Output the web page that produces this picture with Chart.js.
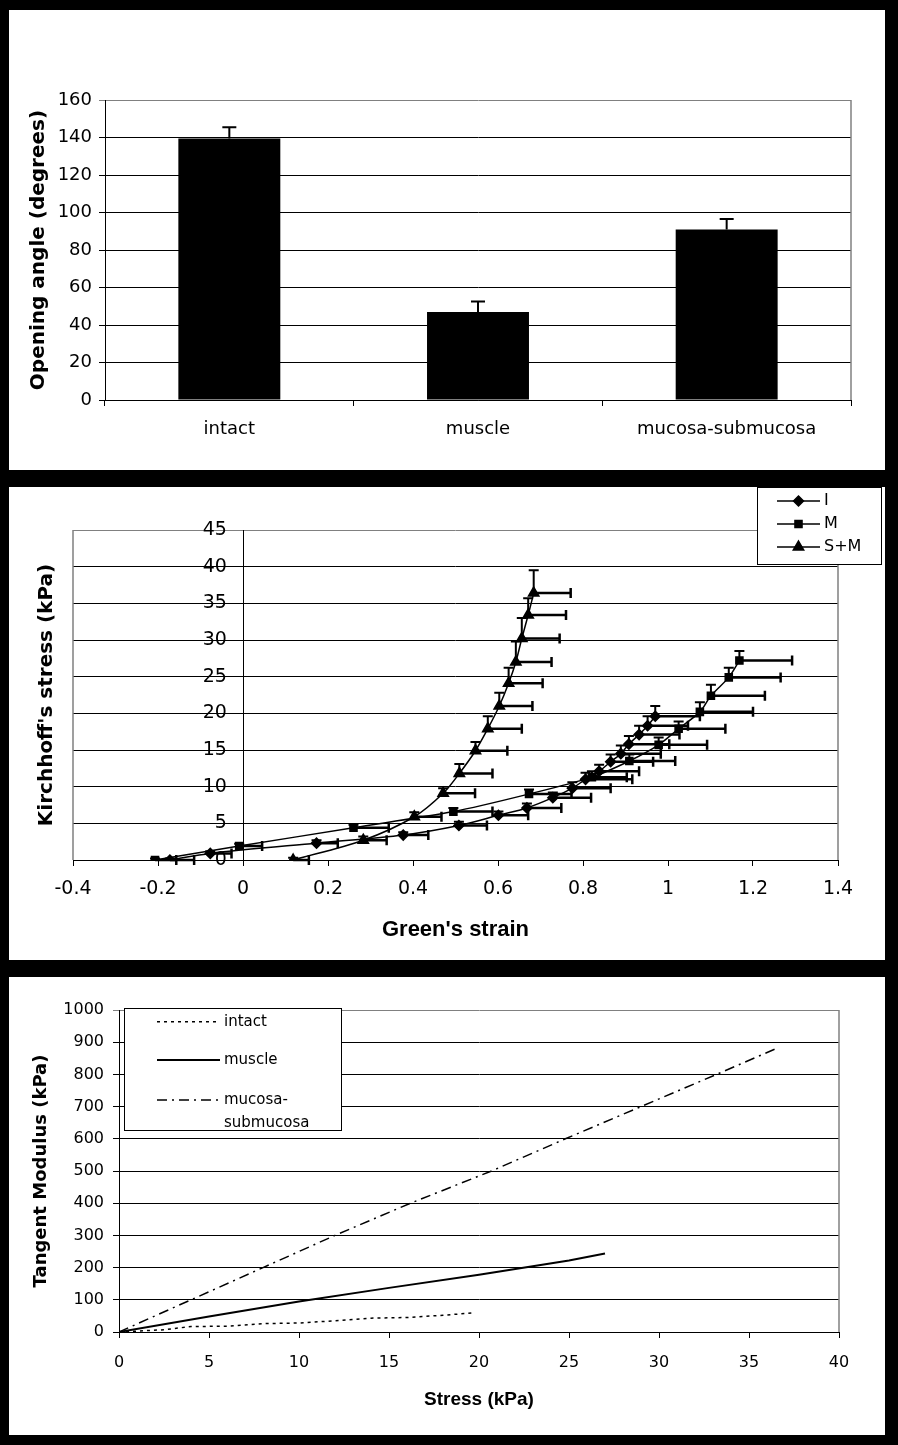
<!DOCTYPE html>
<html>
<head>
<meta charset="utf-8">
<script src="https://cdn.jsdelivr.net/npm/chart.js@4.4.0/dist/chart.umd.min.js"></script>
<style>
  body { margin: 0; background: #000; width: 898px; height: 1445px; overflow: hidden; position: relative; }
  .panel { position: absolute; left: 9px; width: 876px; background: #fff; }
  canvas { display: block; }
</style>
</head>
<body>
<div class="panel" style="top:10px;height:460px"><canvas id="angleChart" width="876" height="460"></canvas></div>
<div class="panel" style="top:487px;height:473px"><canvas id="stressChart" width="876" height="473"></canvas></div>
<div class="panel" style="top:977px;height:458px"><canvas id="modulusChart" width="876" height="458"></canvas></div>
<script>
// ---- opening angle (bars) ----
const angleLabels = ['intact', 'muscle', 'mucosa-submucosa'];
const angleValues = [139.5, 47, 91];
const angleErrors = [6, 5.5, 5.5];
const angleTicks = [0, 160, 20];

// ---- stress-strain curves ----
const iStrain = [-0.172, -0.077, 0.173, 0.377, 0.508, 0.601, 0.668, 0.729, 0.775, 0.806, 0.838, 0.865, 0.889, 0.908, 0.932, 0.952, 0.970];
const iStress = [0, 0.9, 2.3, 3.4, 4.7, 6.1, 7.1, 8.5, 9.8, 11.0, 12.1, 13.4, 14.5, 15.8, 17.1, 18.3, 19.6];
const iStrainErr = [0.057, 0.05, 0.05, 0.059, 0.066, 0.07, 0.081, 0.09, 0.09, 0.11, 0.094, 0.1, 0.094, 0.095, 0.095, 0.095, 0.105];
const iStressErr = [0.2, 0.3, 0.4, 0.4, 0.5, 0.5, 0.6, 0.7, 0.8, 0.9, 0.9, 1.0, 1.1, 1.1, 1.2, 1.3, 1.4];

const mStrain = [-0.207, -0.009, 0.26, 0.495, 0.673, 0.821, 0.909, 0.978, 1.025, 1.075, 1.101, 1.143, 1.168];
const mStress = [0, 1.9, 4.4, 6.6, 9.0, 11.3, 13.5, 15.7, 17.9, 20.2, 22.4, 24.9, 27.2];
const mStrainErr = [0.05, 0.054, 0.083, 0.092, 0.1, 0.082, 0.108, 0.114, 0.11, 0.125, 0.127, 0.122, 0.124];
const mStressErr = [0.2, 0.3, 0.4, 0.5, 0.6, 0.8, 0.9, 1.0, 1.0, 1.3, 1.5, 1.3, 1.3];

const smStrain = [0.118, 0.283, 0.403, 0.471, 0.509, 0.547, 0.576, 0.603, 0.625, 0.642, 0.656, 0.671, 0.684];
const smStress = [0, 2.7, 5.9, 9.1, 11.8, 14.9, 17.9, 21.0, 24.1, 27.0, 30.2, 33.4, 36.4];
const smStrainErr = [0.037, 0.055, 0.064, 0.075, 0.078, 0.075, 0.08, 0.078, 0.08, 0.084, 0.089, 0.089, 0.087];
const smStressErr = [0.3, 0.5, 0.6, 0.7, 1.3, 1.2, 1.7, 1.8, 2.1, 2.8, 2.8, 2.3, 3.1];

// ---- tangent modulus vs stress ----
const intactStress = [0, 2.5, 4, 6, 8, 10, 12, 14, 16, 18, 19.6];
const intactModulus = [0, 7, 17, 18, 26, 28, 35, 43, 45, 52, 59];
const muscleStress = [0, 5, 10, 15, 20, 25, 27];
const muscleModulus = [0, 48, 95, 137, 178, 222, 244];
const mucosaStress = [0, 4, 8, 12, 16.2, 20.7, 24.8, 29, 33.2, 36.5];
const mucosaModulus = [0, 100, 200, 300, 400, 500, 600, 700, 800, 880];

Chart.defaults.font.family = "'DejaVu Sans', sans-serif";
Chart.defaults.color = '#000';

const toXY = (xs, ys) => xs.map((x, k) => ({ x: x, y: ys[k] }));
const plainNum = v => String(+(+v).toFixed(1));

// error bars: vertical (up) and horizontal (right) from each point
const errorBars = {
  id: 'errorBars',
  afterDatasetsDraw(chart) {
    const ctx = chart.ctx;
    chart.data.datasets.forEach((ds, i) => {
      const meta = chart.getDatasetMeta(i);
      const xs = chart.scales[meta.xAxisID], ys = chart.scales[meta.yAxisID];
      ctx.save();
      ctx.strokeStyle = '#000';
      meta.data.forEach((el, j) => {
        const raw = ds.data[j];
        if (ds.errY) {
          const v = typeof raw === 'object' ? raw.y : raw;
          const top = ys.getPixelForValue(v + ds.errY[j]);
          const cap = ds.capY || 5;
          ctx.lineWidth = ds.errWidthY || 2;
          ctx.beginPath();
          ctx.moveTo(el.x, el.y); ctx.lineTo(el.x, top);
          ctx.moveTo(el.x - cap, top); ctx.lineTo(el.x + cap, top);
          ctx.stroke();
        }
        if (ds.errX) {
          const end = xs.getPixelForValue(raw.x + ds.errX[j]);
          ctx.lineWidth = ds.errWidthX || 2.5;
          ctx.beginPath();
          ctx.moveTo(el.x, el.y); ctx.lineTo(end, el.y);
          ctx.moveTo(end, el.y - 5); ctx.lineTo(end, el.y + 5);
          ctx.stroke();
        }
      });
      ctx.restore();
    });
  }
};

// grey plot-area border on chosen sides
const frame = {
  id: 'frame',
  beforeDatasetsDraw(chart, args, opts) {
    const a = chart.chartArea, ctx = chart.ctx;
    ctx.save();
    ctx.strokeStyle = opts.color || '#808080';
    ctx.lineWidth = 1.5;
    ctx.beginPath();
    (opts.sides || []).forEach(s => {
      if (s === 'right') { ctx.moveTo(a.right, a.top); ctx.lineTo(a.right, a.bottom); }
      if (s === 'left') { ctx.moveTo(a.left, a.top); ctx.lineTo(a.left, a.bottom); }
      if (s === 'top') { ctx.moveTo(a.left, a.top); ctx.lineTo(a.right, a.top); }
    });
    ctx.stroke();
    ctx.restore();
  }
};

// boxed legend with line samples
const boxLegend = {
  id: 'boxLegend',
  afterDraw(chart, args, o) {
    if (!o || !o.box) return;
    const ctx = chart.ctx;
    ctx.save();
    ctx.fillStyle = '#fff';
    ctx.fillRect(o.box[0], o.box[1], o.box[2] - o.box[0], o.box[3] - o.box[1]);
    ctx.strokeStyle = '#000';
    ctx.lineWidth = 1;
    ctx.strokeRect(o.box[0] + 0.5, o.box[1] + 0.5, o.box[2] - o.box[0] - 1, o.box[3] - o.box[1] - 1);
    chart.data.datasets.forEach((ds, i) => {
      const y = o.rows[i];
      ctx.strokeStyle = '#000';
      ctx.lineWidth = ds.borderWidth || 1.5;
      ctx.setLineDash(ds.borderDash || []);
      ctx.beginPath();
      ctx.moveTo(o.lineX[0], y); ctx.lineTo(o.lineX[1], y);
      ctx.stroke();
      ctx.setLineDash([]);
      if (ds.pointStyle && ds.pointRadius) {
        ctx.fillStyle = '#000';
        Chart.helpers.drawPoint(ctx, { pointStyle: ds.pointStyle, radius: ds.pointRadius, borderWidth: 1, rotation: 0 },
          (o.lineX[0] + o.lineX[1]) / 2, y);
      }
      ctx.fillStyle = '#000';
      ctx.font = o.font;
      ctx.textBaseline = 'middle';
      ctx.textAlign = 'left';
      const lines = ds.legendText || [ds.label];
      lines.forEach((t, k) => ctx.fillText(t, o.textX, y + k * o.lineGap));
    });
    ctx.restore();
  }
};

// ---------- chart 1 ----------
new Chart(document.getElementById('angleChart'), {
  type: 'bar',
  data: {
    labels: angleLabels,
    datasets: [{
      label: 'Opening angle',
      data: angleValues,
      errY: angleErrors,
      capY: 7,
      errWidthY: 2,
      backgroundColor: '#000',
      barPercentage: 0.41,
      categoryPercentage: 1
    }]
  },
  options: {
    responsive: false,
    animation: false,
    devicePixelRatio: 1,
    layout: { padding: { top: 90, right: 34, left: 0, bottom: 0 } },
    plugins: { legend: { display: false }, tooltip: { enabled: false }, frame: { sides: ['right'] } },
    scales: {
      x: {
        grid: { offset: true, drawOnChartArea: false, tickLength: 6, color: '#000' },
        border: { color: '#000' },
        ticks: { padding: 13, font: { size: 18 }, maxRotation: 0 },
        afterFit(s) { s.height = 70; }
      },
      y: {
        min: angleTicks[0], max: angleTicks[1],
        ticks: { stepSize: angleTicks[2], padding: 7, font: { size: 18 } },
        grid: { color: c => c.tick && c.tick.value === angleTicks[1] ? '#808080' : '#000', tickLength: 6 },
        border: { color: '#000' },
        title: { display: true, text: 'Opening angle (degrees)', font: { size: 20, weight: 'bold' }, padding: { top: 18, bottom: 0 } },
        afterFit(s) { s.width = 96; }
      }
    }
  },
  plugins: [frame, errorBars]
});

// ---------- chart 2 ----------
const curveStyle = { borderColor: '#000', backgroundColor: '#000', pointBackgroundColor: '#000', pointBorderColor: '#000', borderWidth: 1.5, tension: 0.3, fill: false };
new Chart(document.getElementById('stressChart'), {
  type: 'line',
  data: {
    datasets: [
      Object.assign({ label: 'I', data: toXY(iStrain, iStress), errX: iStrainErr, errY: iStressErr, pointStyle: 'rectRot', pointRadius: 5 }, curveStyle),
      Object.assign({ label: 'M', data: toXY(mStrain, mStress), errX: mStrainErr, errY: mStressErr, pointStyle: 'rect', pointRadius: 5 }, curveStyle),
      Object.assign({ label: 'S+M', data: toXY(smStrain, smStress), errX: smStrainErr, errY: smStressErr, pointStyle: 'triangle', pointRadius: 6 }, curveStyle)
    ]
  },
  options: {
    responsive: false,
    animation: false,
    devicePixelRatio: 1,
    layout: { padding: { top: 43, right: 47, left: 0, bottom: 0 } },
    plugins: {
      legend: { display: false }, tooltip: { enabled: false },
      frame: { sides: ['right', 'left'] },
      boxLegend: { box: [748, 0, 873, 78], rows: [14, 37, 60], lineX: [768, 811], textX: 815, lineGap: 0, font: "16px 'DejaVu Sans'" }
    },
    scales: {
      x: {
        type: 'linear', min: -0.4, max: 1.4,
        ticks: { stepSize: 0.2, padding: 12, font: { size: 19 }, callback: plainNum },
        grid: { drawOnChartArea: false, tickLength: 6, color: '#000' },
        border: { color: '#000' },
        title: { display: true, text: "Green's strain", font: { family: "'Liberation Sans', Arial", size: 22, weight: 'bold' }, padding: { top: 0, bottom: 17 } },
        afterFit(s) { s.height = 100; }
      },
      y: {
        type: 'linear', position: { x: 0 }, min: 0, max: 45,
        ticks: { stepSize: 5, display: false },
        grid: { color: c => c.tick && c.tick.value === 45 ? '#808080' : '#000', tickLength: 6 },
        border: { color: '#000' }
      },
      // labels of the stress axis, set just left of the axis line
      yLabels: {
        type: 'linear', position: { x: -0.038 }, min: 0, max: 45,
        ticks: { stepSize: 5, font: { size: 19 } },
        grid: { display: false }, border: { display: false }
      },
      yTitle: {
        type: 'linear', position: 'left', display: true,
        ticks: { display: false }, grid: { display: false }, border: { display: false },
        title: { display: true, text: "Kirchhoff's stress (kPa)", font: { size: 20, weight: 'bold' }, padding: { top: 26, bottom: 0 } },
        afterFit(s) { s.width = 64; }
      }
    }
  },
  plugins: [frame, errorBars, boxLegend]
});

// ---------- chart 3 ----------
const modStyle = { borderColor: '#000', pointRadius: 0, tension: 0, fill: false };
new Chart(document.getElementById('modulusChart'), {
  type: 'line',
  data: {
    datasets: [
      Object.assign({ label: 'intact', data: toXY(intactStress, intactModulus), borderWidth: 1.5, borderDash: [3, 4] }, modStyle),
      Object.assign({ label: 'muscle', data: toXY(muscleStress, muscleModulus), borderWidth: 2 }, modStyle),
      Object.assign({ label: 'mucosa-submucosa', legendText: ['mucosa-', 'submucosa'], data: toXY(mucosaStress, mucosaModulus), borderWidth: 1.5, borderDash: [10, 5, 2, 5] }, modStyle)
    ]
  },
  options: {
    responsive: false,
    animation: false,
    devicePixelRatio: 1,
    layout: { padding: { top: 33, right: 46, left: 0, bottom: 0 } },
    plugins: {
      legend: { display: false }, tooltip: { enabled: false },
      frame: { sides: ['right'] },
      boxLegend: { box: [115, 31, 333, 154], rows: [44.7, 83, 123], lineX: [148, 211], textX: 215, lineGap: 22.7, font: "15px 'DejaVu Sans'" }
    },
    scales: {
      x: {
        type: 'linear', min: 0, max: 40,
        ticks: { stepSize: 5, padding: 15, font: { size: 16 } },
        grid: { drawOnChartArea: false, tickLength: 6, color: '#000' },
        border: { color: '#000' },
        title: { display: true, text: 'Stress (kPa)', font: { family: "'Liberation Sans', Arial", size: 19, weight: 'bold' }, padding: { top: 0, bottom: 24 } },
        afterFit(s) { s.height = 103; }
      },
      y: {
        type: 'linear', min: 0, max: 1000,
        ticks: { stepSize: 100, padding: 9, font: { size: 16 }, callback: v => String(v) },
        grid: { color: c => c.tick && c.tick.value === 1000 ? '#808080' : '#000', tickLength: 6 },
        border: { color: '#000' },
        title: { display: true, text: 'Tangent Modulus (kPa)', font: { size: 18, weight: 'bold' }, padding: { top: 22, bottom: 0 } },
        afterFit(s) { s.width = 110; }
      }
    }
  },
  plugins: [frame, boxLegend]
});
</script>
</body>
</html>
